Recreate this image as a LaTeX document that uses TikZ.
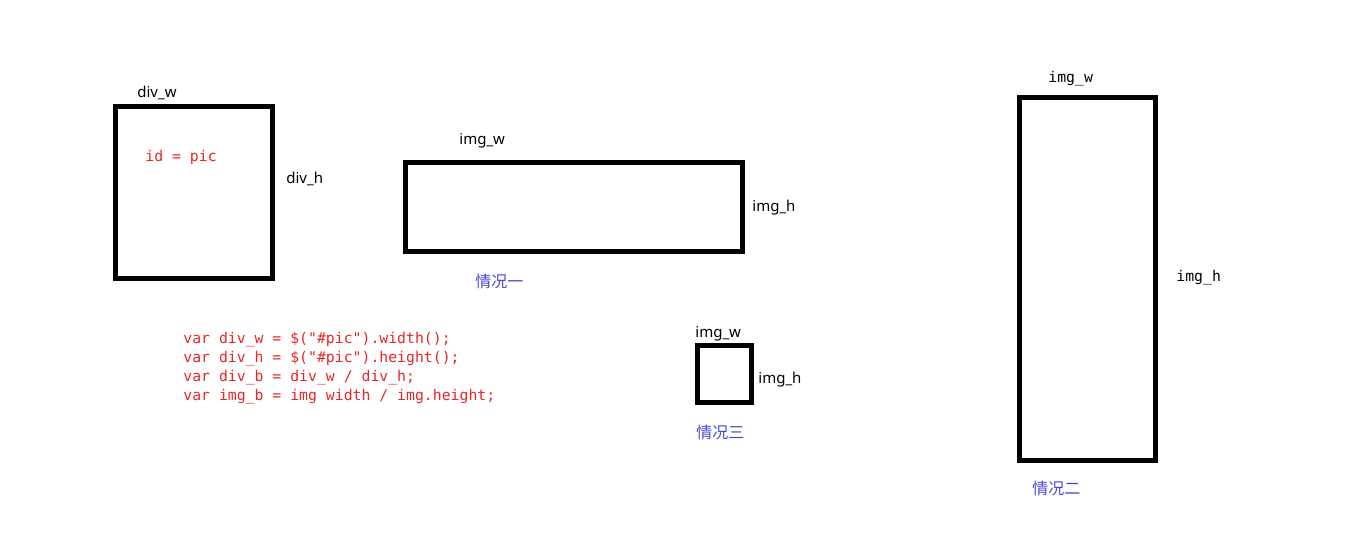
\documentclass[tikz,border=0pt]{standalone}
\usepackage{fontspec}
\setmainfont{Noto Sans}
\newfontfamily\codefont{DejaVu Sans Mono}
\newfontfamily\cjkfont{Noto Sans CJK SC}
\definecolor{codered}{RGB}{232,38,38}
\definecolor{caseblue}{RGB}{72,72,212}
\begin{document}
\begin{tikzpicture}[x=0.5pt, y=-0.5pt,
  box/.style={draw, line width=2.5pt, inner sep=0pt},
  lab/.style={anchor=west, inner sep=0pt, font=\fontsize{7.5}{9}\selectfont},
  mono/.style={anchor=west, inner sep=0pt, font=\codefont\fontsize{7.4}{9}\selectfont},
  code/.style={mono, text=codered},
  case/.style={anchor=west, inner sep=0pt, text=caseblue, font=\cjkfont\fontsize{8}{10}\selectfont}]

\useasboundingbox (0,0) rectangle (1348,555);

%--- div ---
\node[box, minimum width=78.5pt, minimum height=86pt] (div) at (194,192.5) {};
\node[lab] (divw) at (137,93) {div\_w};
\node[lab] (divh) at (286,179) {div\_h};
\node[code] (divid) at (145,157) {id = pic};

%--- Case one ---
\node[box, minimum width=168.5pt, minimum height=44.5pt] (imgone) at (574,207) {};
\node[lab] (onew) at (459,141) {img\_w};
\node[lab] (oneh) at (752,208) {img\_h};
\node[case] (caseone) at (475,281) {情况一};

%--- Case three ---
\node[box, minimum width=27pt, minimum height=28.5pt] (imgthree) at (724.5,374) {};
\node[lab] (threew) at (695,334) {img\_w};
\node[lab] (threeh) at (758,380) {img\_h};
\node[case] (casethree) at (696,432) {情况三};

%--- Case two ---
\node[box, minimum width=68pt, minimum height=181.5pt] (imgtwo) at (1087.5,279) {};
\node[mono] (twow) at (1048,79) {img\_w};
\node[mono] (twoh) at (1176,278) {img\_h};
\node[case] (casetwo) at (1032,488) {情况二};

%--- Code ---
\foreach \i/\yy/\txt in {1/340/{var div\_w = \$("\#pic").width();},
                         2/359/{var div\_h = \$("\#pic").height();},
                         3/378/{var div\_b = div\_w / div\_h;},
                         4/397/{var img\_b = img width / img.height;}}{
  \node[code] (code\i) at (183,\yy) {\txt};
}

\end{tikzpicture}
\end{document}
